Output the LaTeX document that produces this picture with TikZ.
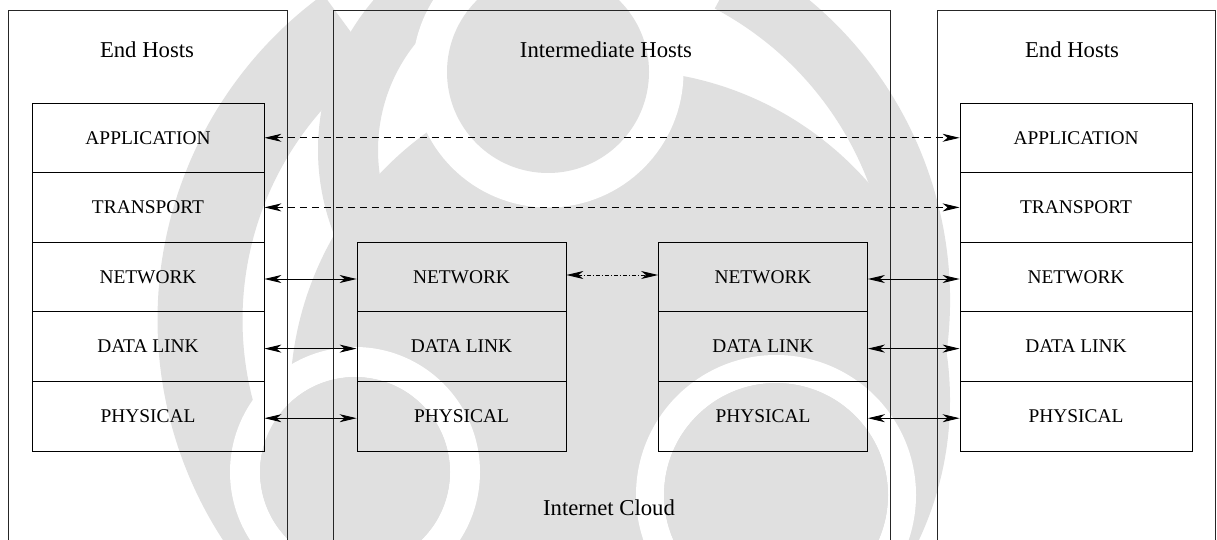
\documentclass[tikz,border=0pt]{standalone}
\usepackage{fontspec}
\setmainfont{Liberation Serif}
\usetikzlibrary{arrows.meta}
\definecolor{wm}{gray}{0.88}
\tikzset{
  hostframe/.style={draw=black!85, line width=0.8pt},
  hosttitle/.style={font=\fontsize{22.7}{27}\selectfont, inner sep=0pt},
  layer/.style={draw=black, line width=0.8pt, minimum width=232pt, minimum height=69.6pt,
    inner sep=0pt, font=\fontsize{19.4}{23}\selectfont},
  midlayer/.style={layer, minimum width=209pt},
  link/.style={line width=0.9pt, {Stealth[length=17pt, width=8pt, inset=5pt]}-{Stealth[length=17pt, width=8pt, inset=5pt]}},
  peer/.style={link, dash pattern=on 7pt off 5pt},
  hop/.style={link, dash pattern=on 4pt off 2pt on 1pt off 2pt},
}
\begin{document}
\begin{tikzpicture}[x=1pt, y=-1pt]
  \clip (0,0) rectangle (1217,540);
  \fill[white] (0,0) rectangle (1217,540);

  % faint emblem behind the drawing
  \fill[wm] (620,400) circle[radius=330];
  \draw[wm, line width=60pt] (548,150) ++(150:200) arc[start angle=150, end angle=250, radius=200];
  \draw[wm, line width=85pt] (560,320) ++(141:360) arc[start angle=141, end angle=234, radius=360];
  \draw[wm, line width=60pt] (560,300) ++(-62:360) arc[start angle=-62, end angle=25, radius=360];
  \draw[white, line width=35pt] (548,72) circle[radius=118];
  \draw[white, line width=30pt] (355,472) circle[radius=110];
  \draw[white, line width=28pt] (776,495) circle[radius=126];
  \fill[wm] (548,72) circle[radius=101];
  \fill[wm] (355,472) circle[radius=95];
  \fill[wm] (776,495) circle[radius=112];

  % host frames (open at the bottom)
  \draw[hostframe] (8,560) -- (8,10) -- (287,10) -- (287,560);
  \draw[hostframe] (333,560) -- (333,10) -- (890,10) -- (890,560);
  \draw[hostframe] (937,560) -- (937,10) -- (1215,10) -- (1215,560);

  \node[hosttitle] (tl) at (147,50) {End Hosts};
  \node[hosttitle] (tm) at (606,50) {Intermediate Hosts};
  \node[hosttitle] (tr) at (1072,50) {End Hosts};
  \node[hosttitle] (cloud) at (609,508) {Internet Cloud};

  % left end host stack
  \node[layer] (lA) at (148,137.8) {APPLICATION};
  \node[layer] (lT) at (148,207.4) {TRANSPORT};
  \node[layer] (lN) at (148,277) {NETWORK};
  \node[layer] (lD) at (148,346.6) {DATA LINK};
  \node[layer] (lP) at (148,416.2) {PHYSICAL};

  % right end host stack
  \node[layer] (rA) at (1076,137.8) {APPLICATION};
  \node[layer] (rT) at (1076,207.4) {TRANSPORT};
  \node[layer] (rN) at (1076,277) {NETWORK};
  \node[layer] (rD) at (1076,346.6) {DATA LINK};
  \node[layer] (rP) at (1076,416.2) {PHYSICAL};

  % routers in the cloud
  \node[midlayer] (aN) at (461.5,277) {NETWORK};
  \node[midlayer] (aD) at (461.5,346.6) {DATA LINK};
  \node[midlayer] (aP) at (461.5,416.2) {PHYSICAL};
  \node[midlayer] (bN) at (763,277) {NETWORK};
  \node[midlayer] (bD) at (763,346.6) {DATA LINK};
  \node[midlayer] (bP) at (763,416.2) {\raisebox{-5pt}{PHYSICAL}};

  % end-to-end peers
  \draw[peer] (lA.east) -- (rA.west);
  \draw[peer] (lT.east) -- (rT.west);

  % hop-by-hop links
  \draw[link] ([yshift=-2pt]lN.east) -- ([yshift=-2pt]aN.west);
  \draw[link] ([yshift=-2pt]lD.east) -- ([yshift=-2pt]aD.west);
  \draw[link] ([yshift=-2pt]lP.east) -- ([yshift=-2pt]aP.west);
  \draw[hop] ([yshift=2pt]aN.east) -- ([yshift=2pt]bN.west);
  \draw[link] ([yshift=-2pt]bN.east) -- ([yshift=-2pt]rN.west);
  \draw[link] ([yshift=-2pt]bD.east) -- ([yshift=-2pt]rD.west);
  \draw[link] ([yshift=-2pt]bP.east) -- ([yshift=-2pt]rP.west);
\end{tikzpicture}
\end{document}
